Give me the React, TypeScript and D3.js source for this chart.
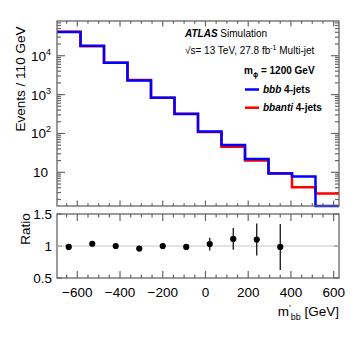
import React from 'react';
import * as d3 from 'd3';

// bin edges of m'_bb [GeV], 110 GeV wide
const binEdges = [-695, -585, -475, -365, -255, -145, -35, 75, 185, 295, 405, 515, 625];
const bbbCounts = [40500, 18000, 6600, 2290, 830, 315, 112, 50.5, 22.1, 9.3, 7.8, 0];
const bbantiCounts = [41100, 17400, 6600, 2385, 830, 320, 109, 45.5, 20.1, 9.4, 4.1, 2.85];
const ratioValues = [0.985, 1.035, 1.0, 0.96, 1.0, 0.985, 1.03, 1.11, 1.1, 0.985];
const ratioErrors = [0.01, 0.01, 0.01, 0.01, 0.015, 0.03, 0.1, 0.17, 0.25, 0.36];
const xTickLabels = [-600, -400, -200, 0, 200, 400, 600];
const yDecades = [10, 100, 1000, 10000];
const ratioTicks = [0.5, 1, 1.5];

const W = 357;
const H = 347;
const FONT = "'Liberation Sans', Arial, Helvetica, sans-serif";
const AXIS = '#666';

const left = 57;
const right = 339;
const topY0 = 21;
const topY1 = 206;
const ratY0 = 214;
const ratY1 = 278;
const yMin = 1.36;
const yMax = 78200;

const x = d3.scaleLinear().domain([binEdges[0], binEdges[binEdges.length - 1]]).range([left, right]);
const yTop = d3.scaleLog().domain([yMin, yMax]).range([topY1, topY0]);
const yRat = d3.scaleLinear().domain([0.5, 1.5]).range([ratY1, ratY0]);

const step = d3
  .line<[number, number]>()
  .x((d) => x(d[0]))
  .y((d) => yTop(Math.max(d[1], yMin)))
  .curve(d3.curveStepAfter);

const histPath = (vals: number[]) =>
  step(binEdges.map((e, i) => [e, vals[Math.min(i, vals.length - 1)]] as [number, number])) || '';

const majorX = d3.range(-600, 601, 200);
const minorX = d3.range(-650, 626, 50).filter((v) => v % 200 !== 0 && v >= binEdges[0]);

const minorY: number[] = [];
[1, 10, 100, 1000, 10000].forEach((dec) => {
  for (let k = 2; k <= 9; k++) {
    const v = k * dec;
    if (v > yMin && v < yMax) minorY.push(v);
  }
});

const sup = ['⁰', '¹', '²', '³', '⁴'];

export default function App() {
  const centers = binEdges.slice(0, -1).map((e, i) => (e + binEdges[i + 1]) / 2);
  return (
    <svg
      width={W}
      height={H}
      style={{ position: 'absolute', left: 0, top: 0, background: '#fff' }}
      fontFamily={FONT}
    >
      <rect width={W} height={H} fill="#fff" />

      {/* ---- top panel ticks ---- */}
      <g stroke={AXIS} strokeWidth={1.2}>
        {majorX.map((v) => (
          <g key={'mx' + v}>
            <line x1={x(v)} x2={x(v)} y1={topY1} y2={topY1 - 5.5} />
            <line x1={x(v)} x2={x(v)} y1={topY0} y2={topY0 + 5.5} />
            <line x1={x(v)} x2={x(v)} y1={ratY1} y2={ratY1 - 7} />
            <line x1={x(v)} x2={x(v)} y1={ratY0} y2={ratY0 + 7} />
          </g>
        ))}
        {minorX.map((v) => (
          <g key={'nx' + v}>
            <line x1={x(v)} x2={x(v)} y1={topY1} y2={topY1 - 2.8} />
            <line x1={x(v)} x2={x(v)} y1={topY0} y2={topY0 + 2.8} />
            <line x1={x(v)} x2={x(v)} y1={ratY1} y2={ratY1 - 3.5} />
            <line x1={x(v)} x2={x(v)} y1={ratY0} y2={ratY0 + 3.5} />
          </g>
        ))}
        {yDecades.map((v) => (
          <g key={'my' + v}>
            <line x1={left} x2={left + 8} y1={yTop(v)} y2={yTop(v)} />
            <line x1={right} x2={right - 8} y1={yTop(v)} y2={yTop(v)} />
          </g>
        ))}
        {minorY.map((v) => (
          <g key={'ny' + v}>
            <line x1={left} x2={left + 4} y1={yTop(v)} y2={yTop(v)} />
            <line x1={right} x2={right - 4} y1={yTop(v)} y2={yTop(v)} />
          </g>
        ))}
        {ratioTicks.map((v) => (
          <g key={'ry' + v}>
            <line x1={left} x2={left + 5} y1={yRat(v)} y2={yRat(v)} />
            <line x1={right} x2={right - 5} y1={yRat(v)} y2={yRat(v)} />
          </g>
        ))}
      </g>

      {/* ---- histograms ---- */}
      <path d={histPath(bbantiCounts)} fill="none" stroke="#ff0000" strokeWidth={2.5} />
      <path d={histPath(bbbCounts)} fill="none" stroke="#0000ff" strokeWidth={2.5} />

      {/* ---- frames ---- */}
      <rect x={left} y={topY0} width={right - left} height={topY1 - topY0} fill="none" stroke={AXIS} strokeWidth={1.3} />
      <rect x={left} y={ratY0} width={right - left} height={ratY1 - ratY0} fill="none" stroke={AXIS} strokeWidth={1.3} />

      {/* ---- ratio panel ---- */}
      <line x1={left} x2={right} y1={yRat(1)} y2={yRat(1)} stroke="#c8c8c8" strokeWidth={1} />
      {ratioValues.map((r, i) => (
        <g key={'r' + i}>
          <line
            x1={x(centers[i])}
            x2={x(centers[i])}
            y1={yRat(r - ratioErrors[i])}
            y2={yRat(r + ratioErrors[i])}
            stroke="#000"
            strokeWidth={1.2}
          />
          <circle cx={x(centers[i])} cy={yRat(r)} r={3.1} fill="#000" />
        </g>
      ))}

      {/* ---- axis labels ---- */}
      <g fontSize={13.5} fill="#000">
        {yDecades.map((v) => {
          const n = Math.round(Math.log10(v));
          return n === 1 ? (
            <text key={'yl' + v} x={48} y={yTop(v) + 5} textAnchor="end">10</text>
          ) : (
            <text key={'yl' + v} x={51} y={yTop(v) + 5} textAnchor="end">
              10<tspan fontSize={9} dy={-6}>{n}</tspan>
            </text>
          );
        })}
        {ratioTicks.map((v) => (
          <text key={'rl' + v} x={52} y={yRat(v) + 5} textAnchor="end">
            {d3.format('')(v)}
          </text>
        ))}
        {xTickLabels.map((v) => (
          <text key={'xl' + v} x={x(v)} y={297} textAnchor="middle">
            {v < 0 ? '\u2212' + Math.abs(v) : String(v)}
          </text>
        ))}
        <text transform="translate(25,79) rotate(-90)" textAnchor="middle">Events / 110 GeV</text>
        <text transform="translate(30,229) rotate(-90)" textAnchor="middle">Ratio</text>
        <text x={right} y={316} textAnchor="end">
          m<tspan fontSize={9} dy={-5}>'</tspan>
          <tspan fontSize={9} dy={9}>bb</tspan>
          <tspan dy={-4}> [GeV]</tspan>
        </text>
      </g>

      {/* ---- annotations & legend ---- */}
      <g fontSize={10} fill="#000">
        <text x={185} y={37}>
          <tspan fontWeight="bold" fontStyle="italic">ATLAS</tspan> Simulation
        </text>
        <text x={185} y={53.5}>
          √s= 13 TeV, 27.8 fb<tspan fontSize={7} dy={-4}>-1</tspan>
          <tspan dy={4}> Multi-jet</tspan>
        </text>
        <text x={244} y={74} fontWeight="bold">
          m<tspan fontSize={7} dy={2.5}>ϕ</tspan>
          <tspan dy={-2.5}> = 1200 GeV</tspan>
        </text>
        <line x1={245} x2={259} y1={89.5} y2={89.5} stroke="#0000ff" strokeWidth={2.5} />
        <text x={263} y={93} fontWeight="bold">
          <tspan fontStyle="italic">bbb</tspan> 4-jets
        </text>
        <line x1={245} x2={259} y1={107.7} y2={107.7} stroke="#ff0000" strokeWidth={2.5} />
        <text x={263} y={111} fontWeight="bold">
          <tspan fontStyle="italic">bbanti</tspan> 4-jets
        </text>
      </g>
    </svg>
  );
}
